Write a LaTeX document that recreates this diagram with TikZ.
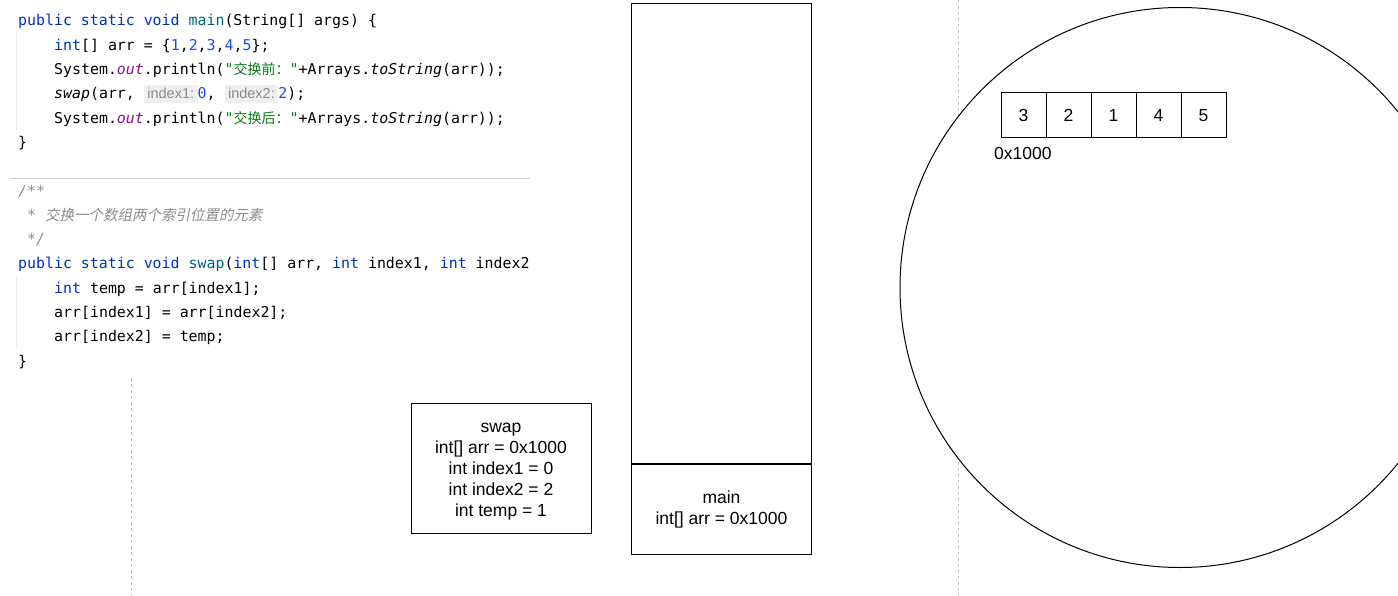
\documentclass[tikz,border=0pt]{standalone}
\usepackage{fontspec}
\setmainfont{Liberation Sans}
\newfontfamily\codefont{DejaVu Sans Mono}
\newfontfamily\cjkfont{Noto Sans CJK SC}
\newfontfamily\cjkslant[FakeSlant=0.2]{Noto Sans CJK SC}
\newfontfamily\hintfont{Liberation Sans}
\usepackage{tikz}
\usetikzlibrary{positioning}

\definecolor{kwblue}{HTML}{0033B3}
\definecolor{fnteal}{HTML}{00627A}
\definecolor{numblue}{HTML}{1750EB}
\definecolor{strgreen}{HTML}{067D17}
\definecolor{fldpurple}{HTML}{871094}
\definecolor{cmtgray}{HTML}{8C8C8C}
\definecolor{hintbg}{HTML}{EFEFEF}
\definecolor{hintfg}{HTML}{8A8A8A}
\definecolor{guidegray}{HTML}{C4C4C4}
\definecolor{sepgray}{HTML}{CFCFCF}

\newcommand{\kw}[1]{\textcolor{kwblue}{#1}}
\newcommand{\mname}[1]{\textcolor{fnteal}{#1}}
\newcommand{\nm}[1]{\textcolor{numblue}{#1}}
\newcommand{\strlit}[1]{\textcolor{strgreen}{#1}}
\newcommand{\fld}[1]{\textcolor{fldpurple}{\itshape #1}}
\newcommand{\cmt}[1]{\textcolor{cmtgray}{\itshape #1}}
\newcommand{\zh}[1]{{\cjkfont\fontsize{14}{18}\selectfont #1}}
\newcommand{\hint}[1]{{\setlength{\fboxsep}{3.5pt}\colorbox{hintbg}{\hintfont\fontsize{14.5}{16}\selectfont\color{hintfg}#1}}}

\begin{document}
\begin{tikzpicture}[x=1pt, y=-1pt,
    box/.style={draw, line width=1pt, inner sep=0pt, align=center,
      font=\fontsize{17.5}{21}\selectfont},
    boxtext/.style={inner sep=0pt, align=center,
      font=\fontsize{17.5}{21}\selectfont},
    cell/.style={draw, line width=1pt, minimum size=45pt, inner sep=0pt,
      font=\fontsize{17.5}{21}\selectfont},
    code/.style={anchor=base west, inner sep=0pt,
      font=\codefont\fontsize{14.9}{18}\selectfont},
    guide/.style={draw=guidegray, dash pattern=on 3pt off 3pt, line width=1pt}]

    \clip (0,0) rectangle (1398,596);
    \fill[white] (0,0) rectangle (1398,596);

    % Guias
    \draw[guide] (958,0) -- (958,596);
    \draw[guide] (131,378) -- (131,596);

    % Codigo main
    \draw[black!8] (16,33) -- (16,130);
    \node[code] (m1) at (18,26) {\kw{public static void} \mname{main}(String[] args) \{};
    \node[code] (m2) at (54,50.3) {\kw{int}[] arr = \{\nm{1},\nm{2},\nm{3},\nm{4},\nm{5}\};};
    \node[code] (m3) at (54,74.6) {System.\fld{out}.println(\strlit{"\zh{交换前：}"}+Arrays.\textit{toString}(arr));};
    \node[code] (m4) at (54,98.9) {\textit{swap}(arr, \hint{index1:}\nm{0}, \hint{index2:}\nm{2});};
    \node[code] (m5) at (54,123.2) {System.\fld{out}.println(\strlit{"\zh{交换后：}"}+Arrays.\textit{toString}(arr));};
    \node[code] (m6) at (18,147.5) {\}};

    \draw[sepgray] (10,178) -- (530,178);

    % Codigo swap
    \draw[black!8] (16,277) -- (16,350);
    \node[code] (s1) at (18,196.1) {\cmt{/**}};
    \node[code] (s2) at (18,220.4) {\cmt{~* {\cjkslant\fontsize{14.5}{18}\selectfont 交换一个数组两个索引位置的元素}}};
    \node[code] (s3) at (18,244.7) {\cmt{~*/}};
    \node[code] (s4) at (18,269) {\kw{public static void} \mname{swap}(\kw{int}[] arr, \kw{int} index1, \kw{int} index2};
    \node[code] (s5) at (54,293.3) {\kw{int} temp = arr[index1];};
    \node[code] (s6) at (54,317.6) {arr[index1] = arr[index2];};
    \node[code] (s7) at (54,341.9) {arr[index2] = temp;};
    \node[code] (s8) at (18,366.2) {\}};

    % Marco swap
    \node[box, minimum width=180pt, minimum height=130pt] (swapframe) at (501,468) {};
    \node[boxtext] (swaptext) at ([yshift=-4pt]swapframe.center)
      {swap\\int[] arr = 0x1000\\int index1 = 0\\int index2 = 2\\int temp = 1};

    % Pila
    \node[box, minimum width=180pt, minimum height=460pt, anchor=north west] (stack) at (631,3) {};
    \node[box, minimum width=180pt, minimum height=90pt, anchor=north] (mainframe) at (stack.south)
      {main\\int[] arr = 0x1000};

    % Monticulo
    \node[circle, draw, fill=white, line width=1pt, minimum size=560pt, inner sep=0pt] (heap) at (1180,287.5) {};
    \foreach \v [count=\i] in {3,2,1,4,5}
      \node[cell] (cell\i) at ({1023.5+45*(\i-1)},115.5) {\v};
    \node[anchor=north west, inner sep=0pt, font=\fontsize{17.5}{21}\selectfont] (addr) at (994,147) {0x1000};

\end{tikzpicture}
\end{document}
